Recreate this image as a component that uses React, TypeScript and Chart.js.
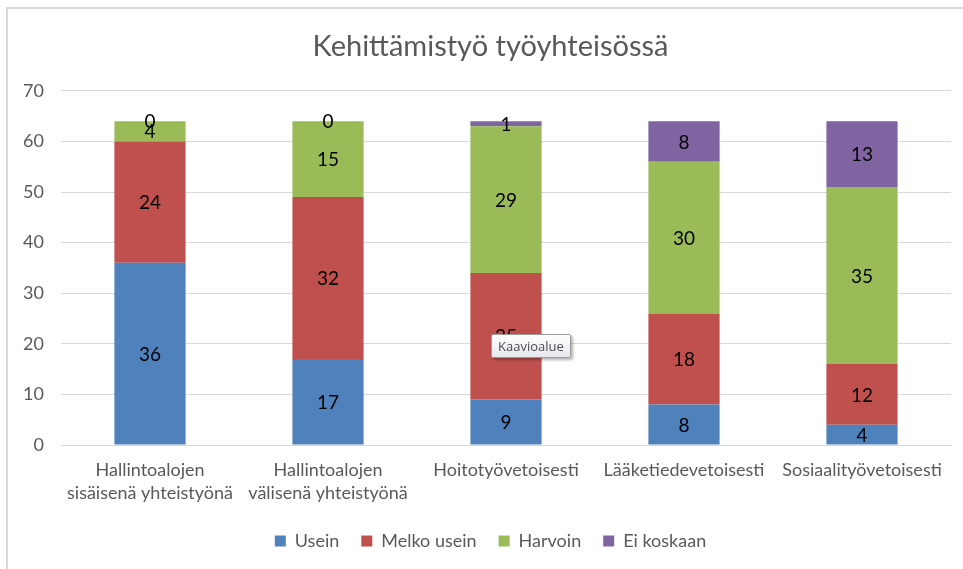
import React, { useEffect, useRef } from "react";
import { Chart, registerables } from "chart.js";
Chart.register(...registerables);

const categories: (string | string[])[] = [
  ["Hallintoalojen", "sisäisenä yhteistyönä"],
  ["Hallintoalojen", "välisenä yhteistyönä"],
  "Hoitotyövetoisesti",
  "Lääketiedevetoisesti",
  "Sosiaalityövetoisesti",
];
const seriesNames = ["Usein", "Melko usein", "Harvoin", "Ei koskaan"];
const usein = [36, 17, 9, 8, 4];
const melkoUsein = [24, 32, 25, 18, 12];
const harvoin = [4, 15, 29, 30, 35];
const eiKoskaan = [0, 0, 1, 8, 13];
const seriesColors = ["#4F81BD", "#C0504D", "#9BBB59", "#8064A2"];
const yMin = 0;
const yMax = 70;
const yStep = 10;
const titleText = "Kehittämistyö työyhteisössä";
const tooltipText = "Kaavioalue";

const FONT = "Lato, 'Open Sans', sans-serif";

const labelPlugin = {
  id: "segmentLabels",
  afterLayout(chart: any) {
    const shift = 15;
    if (chart.legend) {
      chart.legend.left += shift;
      chart.legend.right += shift;
    }
    if (chart.titleBlock) {
      chart.titleBlock.left += shift;
      chart.titleBlock.right += shift;
    }
  },
  afterDatasetsDraw(chart: any) {
    const ctx = chart.ctx;
    ctx.save();
    ctx.font = `19px ${FONT}`;
    ctx.fillStyle = "#000000";
    ctx.textAlign = "center";
    ctx.textBaseline = "middle";
    chart.data.datasets.forEach((ds: any, i: number) => {
      const meta = chart.getDatasetMeta(i);
      meta.data.forEach((el: any, j: number) => {
        const y = (el.y + el.base) / 2;
        ctx.fillText(String(ds.data[j]), el.x, y + 1);
      });
    });
    ctx.restore();
  },
};

export default function App() {
  const ref = useRef<HTMLCanvasElement | null>(null);
  useEffect(() => {
    if (!ref.current) return;
    const all = [usein, melkoUsein, harvoin, eiKoskaan];
    const chart = new Chart(ref.current, {
      type: "bar",
      data: {
        labels: categories,
        datasets: all.map((d, i) => ({
          label: seriesNames[i],
          data: d,
          backgroundColor: seriesColors[i],
          borderWidth: 0,
          categoryPercentage: 1,
          barPercentage: 0.4,
        })),
      },
      options: {
        responsive: false,
        animation: false,
        devicePixelRatio: 1,
        layout: { padding: { top: 16, bottom: 9, left: 0, right: 12 } },
        plugins: {
          title: {
            display: true,
            text: titleText,
            color: "#595959",
            font: { family: FONT, size: 29, weight: "normal" },
            padding: { top: 13, bottom: 27 },
          },
          legend: {
            position: "bottom",
            labels: {
              boxWidth: 11,
              boxHeight: 11,
              color: "#595959",
              font: { family: FONT, size: 18 },
              padding: 22,
            },
          },
          tooltip: { enabled: false },
        },
        scales: {
          x: {
            stacked: true,
            grid: { display: false, drawTicks: false },
            border: { display: true, color: "#d9d9d9" },
            ticks: {
              color: "#595959",
              font: { family: FONT, size: 18, lineHeight: 1.3 },
              padding: 13,
              maxRotation: 0,
              autoSkip: false,
            },
            afterFit(scale: any) {
              scale.height = 65;
            },
          },
          y: {
            stacked: true,
            min: yMin,
            max: yMax,
            grid: { color: "#d9d9d9", drawTicks: false },
            border: { display: false },
            ticks: {
              stepSize: yStep,
              color: "#595959",
              font: { family: FONT, size: 18 },
              padding: 17,
            },
            afterFit(scale: any) {
              scale.width = 61;
            },
          },
        },
      },
      plugins: [labelPlugin],
    } as any);
    return () => chart.destroy();
  }, []);

  return (
    <div style={{ position: "fixed", left: 0, top: 0, width: 963, height: 569, background: "#fff", overflow: "hidden" }}>
      <div
        style={{
          position: "absolute",
          left: 6,
          top: 7,
          width: 1000,
          height: 1000,
          borderLeft: "2px solid #d9d9d9",
          borderTop: "2px solid #d9d9d9",
        }}
      />
      <canvas ref={ref} width={963} height={569} style={{ position: "absolute", left: 0, top: 0 }} />
      <div
        style={{
          position: "absolute",
          left: 491,
          top: 334,
          padding: "2px 6px",
          height: 18,
          lineHeight: "18px",
          border: "1px solid #9a9a9a",
          borderRadius: 2,
          background: "linear-gradient(#ffffff, #e6e8ee)",
          boxShadow: "2px 2px 3px rgba(0,0,0,0.3)",
          color: "#4c4c4c",
          fontFamily: "'Open Sans', sans-serif",
          fontSize: 13,
          whiteSpace: "nowrap",
        }}
      >
        {tooltipText}
      </div>
    </div>
  );
}
